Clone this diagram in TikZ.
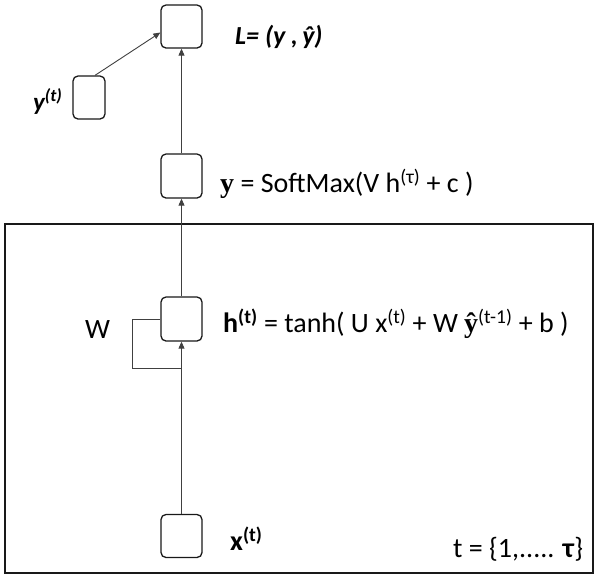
\documentclass[tikz,border=0pt]{standalone}
\usepackage{fontspec}
\setmainfont{Carlito}
\usetikzlibrary{arrows.meta,calc}
\begin{document}
\begin{tikzpicture}[x=1pt,y=-1pt,
  cell/.style={draw=black!90,line width=1.3pt,rounded corners=5pt,minimum width=41pt,minimum height=43pt,inner sep=0pt},
  conn/.style={draw=black!75,line width=0.9pt},
  arr/.style={conn,-{Triangle[length=7pt,width=6pt]}},
  lbl/.style={anchor=west,inner sep=0pt,font=\fontsize{28}{32}\selectfont},
  frame/.style={draw=black!90,line width=1.8pt}]
\useasboundingbox (0,0) rectangle (600,582);
\draw[frame] (5,224) rectangle (593,573);
\node[cell] (L) at (181.5,26.5) {};
\node[cell,minimum width=32pt] (yt) at (89,97.5) {};
\node[cell,minimum height=44pt] (yb) at (181.5,176) {};
\node[cell,minimum height=44pt] (h) at (181.5,319) {};
\node[cell] (xb) at (181.5,536) {};
\coordinate (loopend) at (181.5,368);
% labels
\node[lbl,font=\fontsize{26}{30}\selectfont\bfseries\itshape] (Llbl) at (235,37) {L= (y ,\,ŷ)};
\node[lbl,font=\fontsize{25}{29}\selectfont\bfseries\itshape] (ytlbl) at (33,101) {y\textsuperscript{(t)}};
\node[lbl] (yblbl) at (220,184) {\textbf{\fontspec{Liberation Serif}y} = SoftMax(V h\textsuperscript{(τ)} + c )};
\node[lbl] (hlbl) at (223,324) {\textbf{h\textsuperscript{(t)}} = tanh( U x\textsuperscript{(t)} + W \textbf{\fontspec{Liberation Serif}ŷ}\textsuperscript{(t-1)} + b )};
\node[lbl] (Wlbl) at (85,330) {W};
\node[lbl] (xlbl) at (230,539) {\textbf{x\textsuperscript{(t)}}};
\node[lbl] (tlbl) at (453,549) {t = \{1,..... \textbf{τ}\}};
% connectors
\draw[arr] ($(yt.north)+(6,0)$) -- ($(L.west)+(0,6)$);
\draw[arr] (yb.north) -- (L.south);
\draw[arr] (h.north) -- (yb.south);
\draw[arr] (xb.north) -- (h.south);
\draw[conn] (h.west) -- ++(-28,0) |- (loopend);
\end{tikzpicture}
\end{document}
